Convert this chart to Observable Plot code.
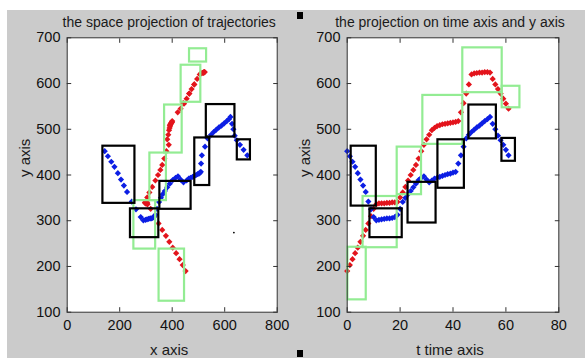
<!DOCTYPE html>
<html>
<head>
<meta charset="utf-8">
<script src="https://cdn.jsdelivr.net/npm/d3@7"></script>
<script src="https://cdn.jsdelivr.net/npm/@observablehq/plot@0.6"></script>
<style>
  html, body { margin: 0; padding: 0; background: #fff; }
  #fig { position: relative; width: 585px; height: 358px; background: #fff; overflow: hidden; }
  #bg { position: absolute; left: 7px; top: 10px; right: 0; bottom: 0; background: #cbcbcb; }
  #left { position: absolute; left: 0; top: 0; width: 290px; height: 358px; }
  #right { position: absolute; left: 290px; top: 0; width: 295px; height: 358px; }
  .handle { position: absolute; width: 6px; height: 7px; background: #000; }
</style>
</head>
<body>
<div id="fig">
  <div id="bg"></div>
  <div id="left"></div>
  <div id="right"></div>
  <div class="handle" style="left:297px;top:12px"></div>
  <div class="handle" style="left:297px;top:350px"></div>
</div>
<script>
// ---- data ----
const titleLeft = "the space projection of trajectories";
const titleRight = "the projection on time axis and y axis";
const xLabelLeft = "x axis";
const xLabelRight = "t time axis";
const yLabel = "y axis";

const xTicksLeft = [0, 200, 400, 600, 800];
const xTicksRight = [0, 20, 40, 60, 80];
const yTicks = [100, 200, 300, 400, 500, 600, 700];

// time steps
const tValues = [0,1,2,3,4,5,6,7,8,9,10,11,12,13,14,15,16,17,18,19,20,21,22,23,24,25,26,27,28,29,30,31,32,33,34,35,36,37,38,39,40,41,42,43,44,45,46,47,48,49,50,51,52,53,54,55,56,57,58,59,60,61];

// red trajectory
const redX = [451,440,428,415,402,389,376,362,348,333, 318,306,300,298,302,305,300,296,300,303, 305,313,324,336,346,355,362,370,378,387, 381,385,388,390,392,391,393,395,396,397, 398,399,400,421,442,465,484,505,510,514, 518,520,522,524,520,495,484,474,465,455, 445,432];
const redY = [190,203,216,229,241,254,267,280,294,310, 326,336,338,338,338,339,339,340,340,341, 351,362,374,388,400,411,422,436,452,466, 478,488,498,503,507,509,511,512,513,514, 515,516,518,537,557,578,598,620,622,623, 624,624,625,625,624,610,598,588,578,567, 556,545];

// blue trajectory
const blueX = [143,155,168,180,193,205,216,228,246,262, 280,290,298,304,310,316,320,325,330,336, 342,350,357,364,372,381,391,402,413,422, 432,443,455,463,470,478,485,491,497,502, 506,509,510,513,525,535,548,558,568,578, 588,598,608,616,622,628,633,638,646,658, 672,686];
const blueY = [452,441,429,418,404,390,377,363,342,325, 308,301,302,303,304,305,305,306,308,313, 326,341,350,358,365,373,381,389,394,397, 390,384,388,392,394,396,398,400,402,403, 405,407,425,443,462,480,488,494,499,504, 508,513,518,522,527,512,500,486,476,466, 455,443];

// boxes [x1, x2, y1, y2]
const leftBlackBoxes = [[136,258,338,463],[241,349,263,326],[353,472,325,386],[486,543,377,481],[530,639,483,554],[648,698,433,477]];
const leftGreenBoxes = [[466,531,647,676],[434,509,559,640],[371,438,448,553],[315,378,344,448],[254,337,238,344],[350,447,124,238]];
const rightBlackBoxes = [[1.5,11,332,463],[8.6,20.8,263,326],[23,33.6,295,384],[34.3,44.3,371,477],[46,56.4,479,553],[58.5,63.6,430,480]];
const rightGreenBoxes = [[0.25,7.2,127,242],[6,18.9,241,353],[18.9,28.1,357,461],[28.6,43.7,467,574],[43.7,58.6,580,678],[58.6,65.3,547,594]];

// stray point in the space projection
const strayX = [635];
const strayY = [274];

// ---- drawing ----
const RED = "#e3141c";
const BLUE = "#0c1ee4";
const GREEN = "#93ec93";
const FONT = "'Liberation Sans', Arial, Helvetica, sans-serif";
const idx = tValues.map((_, i) => i);

function boxMarks(boxes, color) {
  return Plot.rect(boxes, {x1: d => d[0], x2: d => d[1], y1: d => d[2], y2: d => d[3], stroke: color, strokeWidth: 2.2, fill: "none"});
}

function axes(xTicks) {
  return [
    Plot.axisX({anchor: "bottom", ticks: xTicks, tickSize: -4.5, tickPadding: 11.8, label: null, fontSize: 14.5, fill: "#111", stroke: "#333"}),
    Plot.axisX({anchor: "top", ticks: xTicks, tickSize: -4.5, fill: "none", label: null, stroke: "#333"}),
    Plot.axisY({anchor: "left", ticks: yTicks, tickSize: -4.5, tickPadding: 11.2, label: null, fontSize: 14.5, fill: "#111", stroke: "#333"}),
    Plot.axisY({anchor: "right", ticks: yTicks, tickSize: -4.5, fill: "none", label: null, stroke: "#333"})
  ];
}

function panel({xs, xDomain, xTicks, blackBoxes, greenBoxes, title, xLabel, width, marginLeft, marginRight, extra}) {
  return Plot.plot({
    width, height: 358,
    marginLeft, marginRight, marginTop: 37.3, marginBottom: 46.3,
    x: {domain: xDomain},
    y: {domain: [100, 700]},
    style: {background: "transparent", fontFamily: FONT, color: "#1a1a1a", overflow: "visible"},
    marks: [
      Plot.frame({fill: "white", stroke: null}),
      Plot.dot(idx, {x: i => xs.red[i], y: i => redY[i], symbol: "diamond2", r: 2.8, fill: RED}),
      Plot.dot(idx, {x: i => xs.blue[i], y: i => blueY[i], symbol: "diamond2", r: 2.8, fill: BLUE}),
      boxMarks(greenBoxes, GREEN),
      boxMarks(blackBoxes, "#000"),
      ...(extra || []),
      Plot.frame({stroke: "#333", strokeWidth: 1}),
      ...axes(xTicks),
      Plot.text([title], {frameAnchor: "top", lineAnchor: "bottom", dy: -11.3, dx: -3, fontSize: 14, fill: "#1a1a1a"}),
      Plot.text([xLabel], {frameAnchor: "bottom", lineAnchor: "bottom", dy: 42.3, dx: -3, fontSize: 15, fill: "#1a1a1a"}),
      Plot.text([yLabel], {frameAnchor: "left", dx: -42, dy: 2, rotate: -90, fontSize: 15, fill: "#1a1a1a"})
    ]
  });
}

document.getElementById("left").append(panel({
  xs: {red: redX, blue: blueX},
  xDomain: [0, 800], xTicks: xTicksLeft,
  blackBoxes: leftBlackBoxes, greenBoxes: leftGreenBoxes,
  title: titleLeft, xLabel: xLabelLeft,
  width: 290, marginLeft: 66.7, marginRight: 13.3,
  extra: [Plot.dot(strayX.map((_, i) => i), {x: i => strayX[i], y: i => strayY[i], r: 0.9, fill: "#000"})]
}));

document.getElementById("right").append(panel({
  xs: {red: tValues, blue: tValues},
  xDomain: [0, 80], xTicks: xTicksRight,
  blackBoxes: rightBlackBoxes, greenBoxes: rightGreenBoxes,
  title: titleRight, xLabel: xLabelRight,
  width: 295, marginLeft: 56.7, marginRight: 26.7
}));
</script>
</body>
</html>
